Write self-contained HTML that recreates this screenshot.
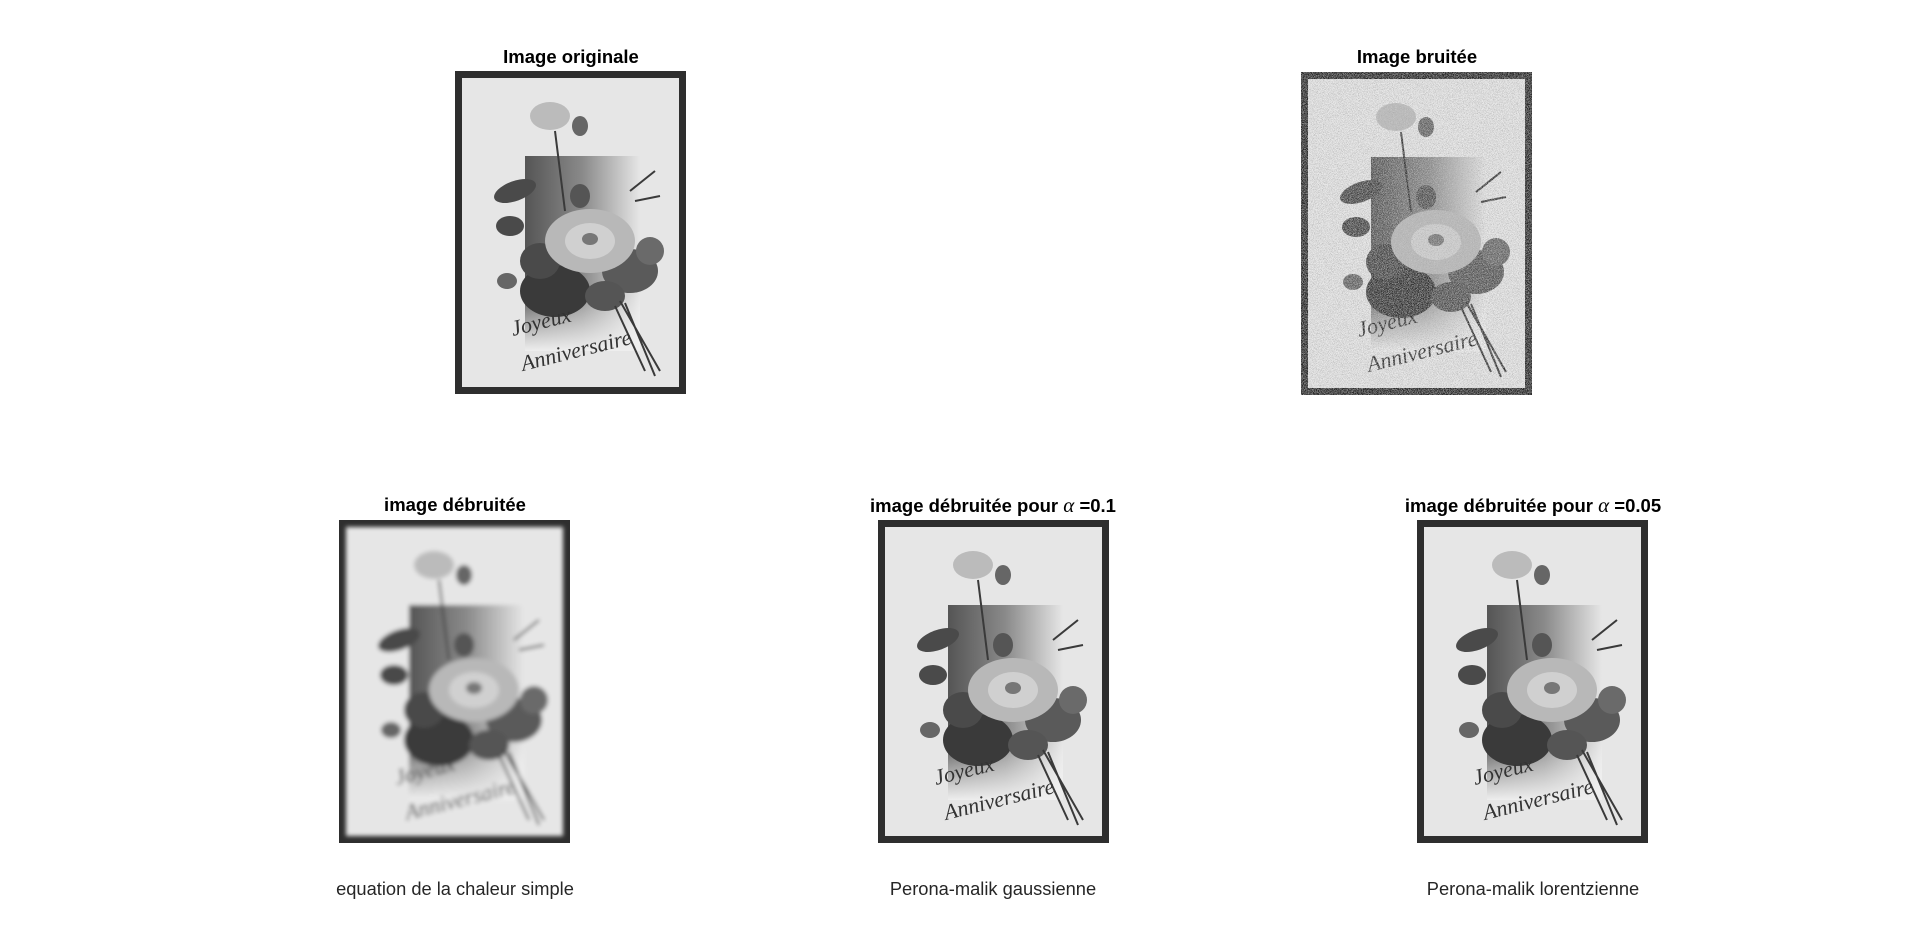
<!DOCTYPE html>
<html><head><meta charset="utf-8">
<style>
html,body{margin:0;padding:0;background:#fff;}
body{width:1920px;height:948px;position:relative;overflow:hidden;font-family:"Liberation Sans",sans-serif;}
.title{position:absolute;font-weight:bold;font-size:18.5px;color:#000;transform:translateX(-50%);white-space:nowrap;line-height:22px;}
.cap{position:absolute;font-size:18.3px;color:#262626;transform:translateX(-50%);white-space:nowrap;line-height:22px;}
.panel{position:absolute;width:231px;height:323px;}
.al{font-family:"Liberation Serif",serif;font-style:italic;font-weight:normal;font-size:21px;}
</style></head>
<body>
<div class="title" style="left:571px;top:46px">Image originale</div>
<div class="title" style="left:1417px;top:46px">Image bruitée</div>
<div class="title" style="left:455px;top:494px">image débruitée</div>
<div class="title" style="left:993px;top:494px">image débruitée pour <span class="al">α</span> =0.1</div>
<div class="title" style="left:1533px;top:494px">image débruitée pour <span class="al">α</span> =0.05</div>

<div class="panel" id="p1" style="left:455px;top:71px"></div>
<div class="panel" id="p2" style="left:1301px;top:72px"></div>
<div class="panel" id="p3" style="left:339px;top:520px"></div>
<div class="panel" id="p4" style="left:878px;top:520px"></div>
<div class="panel" id="p5" style="left:1417px;top:520px"></div>

<div class="cap" style="left:455px;top:878px">equation de la chaleur simple</div>
<div class="cap" style="left:993px;top:878px">Perona-malik gaussienne</div>
<div class="cap" style="left:1533px;top:878px">Perona-malik lorentzienne</div>

<script>
function svg(id, mode){
  var blur = mode==='blur' ? 'filter="url(#b'+id+')"' : '';
  var noise = mode==='noise' ?
    '<filter id="n'+id+'"><feTurbulence type="fractalNoise" baseFrequency="1.2" numOctaves="1" seed="3"/><feColorMatrix type="saturate" values="0"/><feComponentTransfer><feFuncA type="discrete" tableValues="0 0 0.55 0"/></feComponentTransfer></filter>' : '';
  var s = '<svg width="231" height="323" viewBox="0 0 231 323" xmlns="http://www.w3.org/2000/svg">'+
  '<defs><filter id="b'+id+'"><feGaussianBlur stdDeviation="2.2"/></filter>'+noise+
  '<linearGradient id="g'+id+'" x1="0" x2="1" y1="0" y2="0"><stop offset="0" stop-color="#555"/><stop offset="0.5" stop-color="#8a8a8a"/><stop offset="1" stop-color="#e6e6e6"/></linearGradient>'+
  '<linearGradient id="v'+id+'" x1="0" x2="0" y1="0" y2="1"><stop offset="0.7" stop-color="#fff" stop-opacity="0"/><stop offset="1" stop-color="#eee" stop-opacity="1"/></linearGradient></defs>'+
  '<rect x="0" y="0" width="231" height="323" fill="#2e2e2e"/>'+
  '<g '+blur+'>'+
  '<rect x="7" y="7" width="217" height="309" fill="#e6e6e6"/>'+
  '<rect x="70" y="85" width="115" height="195" fill="url(#g'+id+')"/>'+
  '<rect x="70" y="85" width="115" height="195" fill="url(#v'+id+')"/>'+
  '<g fill="#4a4a4a">'+
  '<ellipse cx="60" cy="120" rx="22" ry="10" transform="rotate(-20 60 120)"/>'+
  '<ellipse cx="55" cy="155" rx="14" ry="10"/>'+
  '<ellipse cx="100" cy="220" rx="35" ry="26" fill="#3a3a3a"/>'+
  '<ellipse cx="85" cy="190" rx="20" ry="18"/>'+
  '<ellipse cx="175" cy="200" rx="28" ry="22" fill="#5a5a5a"/>'+
  '<ellipse cx="195" cy="180" rx="14" ry="14" fill="#6a6a6a"/>'+
  '<ellipse cx="150" cy="225" rx="20" ry="15" fill="#555"/>'+
  '<ellipse cx="125" cy="125" rx="10" ry="12" fill="#555"/>'+
  '<ellipse cx="52" cy="210" rx="10" ry="8" fill="#666"/>'+
  '</g>'+
  '<g stroke="#3a3a3a" stroke-width="2" fill="none">'+
  '<path d="M165 230 L205 300 M170 232 L200 305 M160 235 L190 300"/>'+
  '<path d="M110 140 L100 60 M175 120 L200 100 M180 130 L205 125"/>'+
  '</g>'+
  '<ellipse cx="95" cy="45" rx="20" ry="14" fill="#bbb"/>'+
  '<ellipse cx="125" cy="55" rx="8" ry="10" fill="#666"/>'+
  '<ellipse cx="135" cy="170" rx="45" ry="32" fill="#b8b8b8"/>'+
  '<ellipse cx="135" cy="170" rx="25" ry="18" fill="#d0d0d0"/>'+
  '<ellipse cx="135" cy="168" rx="8" ry="6" fill="#777"/>'+
  '<text x="58" y="265" transform="rotate(-14 58 265)" font-family="Liberation Serif,serif" font-style="italic" font-size="22" fill="#333">Joyeux</text>'+
  '<text x="68" y="300" transform="rotate(-14 68 300)" font-family="Liberation Serif,serif" font-style="italic" font-size="22" fill="#333">Anniversaire</text>'+
  '</g>';
  if(mode==='noise') s += '<rect x="7" y="7" width="217" height="309" filter="url(#n'+id+')"/>';
  s += '</svg>';
  return s;
}
document.getElementById('p1').innerHTML = svg(1,'');
document.getElementById('p2').innerHTML = svg(2,'noise');
document.getElementById('p3').innerHTML = svg(3,'blur');
document.getElementById('p4').innerHTML = svg(4,'');
document.getElementById('p5').innerHTML = svg(5,'');
</script>
</body></html>
